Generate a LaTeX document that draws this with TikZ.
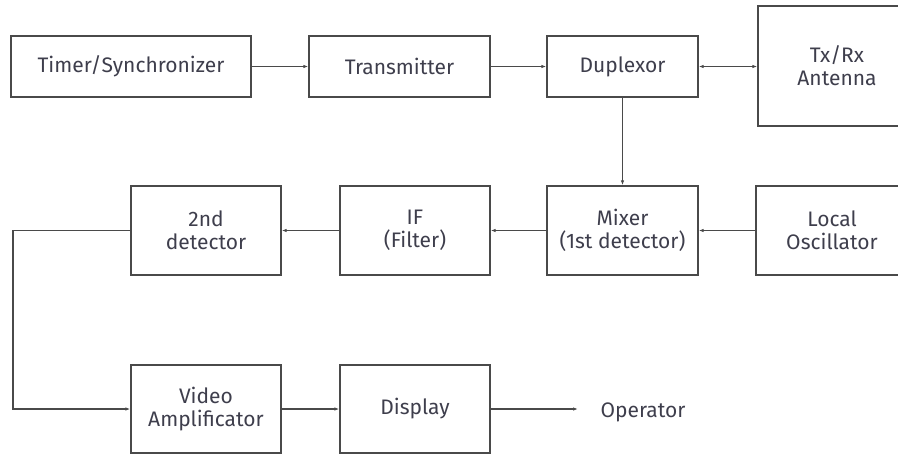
\documentclass[tikz,border=0pt]{standalone}
\usepackage{fontspec}
\setmainfont{Fira Sans}
\usetikzlibrary{arrows.meta}
\definecolor{linec}{HTML}{4A4A4A}
\definecolor{textc}{HTML}{3E3E4C}
\begin{document}
\begin{tikzpicture}[x=1pt,y=-1pt,
  blk/.style={draw=linec, line width=1.3pt, rectangle, inner sep=0pt, align=center,
    text=textc, font=\fontsize{21}{23}\selectfont},
  conn/.style={draw=linec, line width=1.2pt, -{Latex[length=5pt,width=3.5pt]}},
  lbl/.style={text=textc, font=\fontsize{21}{23}\selectfont, inner sep=0pt}]
\useasboundingbox (0,0) rectangle (898,455);
\clip (0,0) rectangle (898,455);
\node[blk, minimum width=240pt, minimum height=61pt] (timer) at (131,66.5) {Timer/Synchronizer};
\node[blk, minimum width=181pt, minimum height=61pt] (trans) at (399.5,66.5) {Transmitter};
\node[blk, minimum width=151pt, minimum height=61pt] (dup) at (622.5,66.5) {Duplexor};
\node[blk, minimum width=158pt, minimum height=120pt] (ant) at (837,66) {Tx/Rx\\Antenna};
\node[blk, minimum width=150pt, minimum height=89pt] (det) at (206,230.5) {2nd\\detector};
\node[blk, minimum width=150pt, minimum height=89pt] (if) at (415,230.5) {IF\\(Filter)};
\node[blk, minimum width=151pt, minimum height=89pt] (mix) at (622.5,230.5) {Mixer\\(1st detector)};
\node[blk, minimum width=152pt, minimum height=89pt] (lo) at (832,230.5) {Local\\Oscillator};
\node[blk, minimum width=150pt, minimum height=88pt] (vid) at (206,409) {Video\\Amplificator};
\node[blk, minimum width=150pt, minimum height=88pt] (disp) at (415,409) {Display};
\node[lbl] (op) at (643,412) {Operator};
\coordinate (opend) at (578,409);
\draw[conn] (timer) -- (trans);
\draw[conn] (trans) -- (dup);
\draw[conn, {Latex[length=5pt,width=3.5pt]}-{Latex[length=5pt,width=3.5pt]}] (dup) -- (dup -| ant.west);
\draw[conn] (dup) -- (mix);
\draw[conn] (lo) -- (mix);
\draw[conn] (mix) -- (if);
\draw[conn] (if) -- (det);
\draw[conn] (det.west) -- (13,230.5) |- (vid.west);
\draw[conn] (vid) -- (disp);
\draw[conn] (disp) -- (opend);
\end{tikzpicture}
\end{document}
